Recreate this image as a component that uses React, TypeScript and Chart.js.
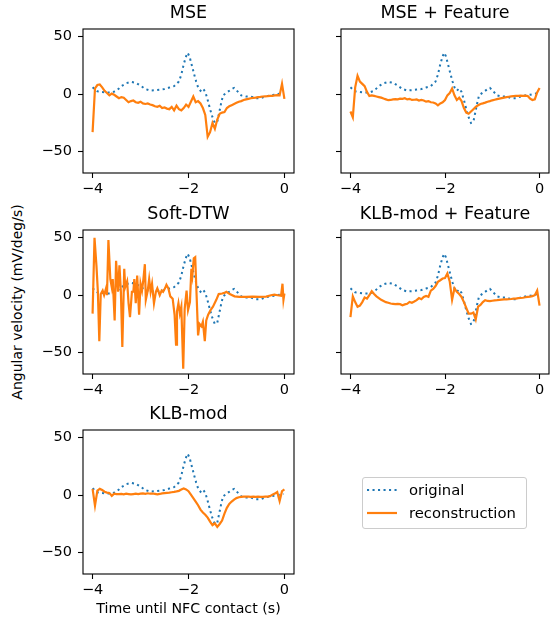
import React, { useEffect, useRef } from 'react';
import { Chart, registerables } from 'chart.js';

Chart.register(...registerables);

// ---------- data ----------
const originalTime = [-4.0, -3.9, -3.8, -3.7, -3.6, -3.5, -3.4, -3.3, -3.2, -3.1, -3.0, -2.9, -2.8, -2.7, -2.6, -2.5, -2.4, -2.3, -2.2, -2.15, -2.1, -2.05, -2.02, -1.98, -1.93, -1.88, -1.84, -1.8, -1.75, -1.7, -1.65, -1.6, -1.55, -1.5, -1.45, -1.4, -1.37, -1.32, -1.28, -1.2, -1.1, -1.05, -1.0, -0.9, -0.8, -0.7, -0.6, -0.5, -0.4, -0.3, -0.2, -0.1, -0.02];
const originalValues = [6, 2.5, 2, 1.5, 1.5, 3, 7, 9.5, 10.7, 10, 7.5, 4.5, 3.2, 3.5, 4, 4.5, 5.8, 7, 11, 17, 26, 33, 36, 33, 25, 17, 11, 6, 3, 5, 2, -5, -13, -20, -25, -24, -18, -8, -1, 1.5, 4.5, 5.5, 3.5, -1, -2, -2, -3.5, -3.5, -2, -1, -0.5, 0.5, 1];

const gridTime = [-4, -3.95, -3.9, -3.85, -3.8, -3.75, -3.7, -3.65, -3.6, -3.55, -3.5, -3.45, -3.4, -3.35, -3.3, -3.25, -3.2, -3.15, -3.1, -3.05, -3, -2.95, -2.9, -2.85, -2.8, -2.75, -2.7, -2.65, -2.6, -2.55, -2.5, -2.45, -2.4, -2.35, -2.3, -2.25, -2.2, -2.15, -2.1, -2.05, -2, -1.95, -1.9, -1.85, -1.8, -1.75, -1.7, -1.65, -1.6, -1.55, -1.5, -1.45, -1.4, -1.35, -1.3, -1.25, -1.2, -1.15, -1.1, -1.05, -1, -0.95, -0.9, -0.85, -0.8, -0.75, -0.7, -0.65, -0.6, -0.55, -0.5, -0.45, -0.4, -0.35, -0.3, -0.25, -0.2, -0.15, -0.1, -0.05, 0];

const mseValues = [-33, 5, 8, 8.5, 6, 3, 1, -1, 0.5, -0.5, -2, -3.5, -2.5, -3, -5, -7, -6, -5.5, -7, -7.5, -6.5, -8, -8.5, -8, -9, -9.5, -10.5, -11, -10, -12, -11.5, -12.5, -13, -11, -14, -10, -13, -14, -12, -9, -11, -6.5, -2, -7, -6, -8, -12, -18, -37, -33, -25, -30, -22, -17, -16, -15.5, -12, -10.5, -9.5, -8.5, -7.5, -6.5, -6, -5, -4.5, -4, -3.5, -3.2, -3, -2.5, -2.3, -2, -1.8, -1.7, -1.5, -1.4, -1, -0.8, -1, 9, -4];

const mseFeatureValues = [-15, -20, 6, 16, 11, 9, 7, 2, -1.5, -1, -1.5, -2, -2.5, -3, -3.8, -4.5, -5.2, -5, -4.5, -4.3, -4.5, -3.8, -4, -3.5, -4.5, -4, -5, -4.8, -4.5, -5.5, -5, -5.5, -6.5, -6, -7, -7.2, -8, -9.6, -8, -7, -5, -1, 1, 5, -1, -5, -3, -6, -12, -16, -17, -15, -13, -11, -9.6, -8.5, -8, -7.3, -6.5, -6, -5.3, -4.8, -4.3, -3.8, -3.4, -3, -2.6, -2.2, -1.8, -1.6, -1.4, -1.4, -1.3, -1.4, -1.3, -1.5, -3.8, -5, -4.5, 1.5, 5.5];

const softDtwTime = [-4.0, -3.96, -3.92, -3.89, -3.86, -3.83, -3.79, -3.76, -3.72, -3.7, -3.67, -3.63, -3.6, -3.58, -3.54, -3.51, -3.47, -3.44, -3.41, -3.38, -3.34, -3.32, -3.28, -3.25, -3.22, -3.18, -3.15, -3.13, -3.1, -3.07, -3.03, -3.0, -2.97, -2.94, -2.91, -2.89, -2.85, -2.82, -2.79, -2.76, -2.72, -2.68, -2.65, -2.6, -2.56, -2.53, -2.49, -2.46, -2.42, -2.38, -2.33, -2.29, -2.26, -2.24, -2.21, -2.18, -2.15, -2.11, -2.08, -2.04, -2.01, -1.97, -1.94, -1.92, -1.89, -1.86, -1.84, -1.8, -1.77, -1.73, -1.7, -1.66, -1.63, -1.59, -1.54, -1.49, -1.42, -1.37, -1.3, -1.25, -1.21, -1.14, -1.04, -0.94, -0.8, -0.66, -0.52, -0.38, -0.28, -0.21, -0.14, -0.07, -0.04, -0.02, 0.0];
const softDtwValues = [-16, 50, 26, 3, -40, 1, 4, 0, 6, 0, 48, 14, 7, 14, -22, 30, 3, 26, 3, -45, 23, 7, 12, -7, -19, 3, 3, 14, -7, 17, -17, 10, 4, 14, 27, -4, 4, 14, 3, 10, -7, 3, 6, 0, 4, 3, 6, 9, 6, -1, -3, -17, -43, -14, -7, -16, -10, -64, -12, 4, -13, -6, 23, 17, 32, 33, 10, -35, -25, -27, -23, -40, -22, -17, -13, -10, -4, 1, 1.5, 2, 3, 1, -1, -1.4, -1.4, -1.2, -1.4, -1.2, 0, 0.5, 0, -0.5, 10, -4, 1.5];

const klbModFeatureValues = [-19, -1, -6, -10, -9, -6, -2, -3, 0, 3.5, 1, -1, -2.5, -4, -5, -6, -6.5, -7.2, -7.5, -7.8, -7.5, -7.8, -8.7, -8, -7.5, -5.8, -6.5, -5.5, -4.3, -2.5, -3.5, -1.5, -0.6, -1.4, 4, 5.5, 8, 11.6, 13, 14.5, 15, 19, 12, -4, 6, 3, 1, -1.5, -6, -11, -16, -16, -15, -21, -10, -8.5, -6, -4.3, -5, -5.2, -4.8, -4.5, -4.3, -4, -3.8, -3.7, -3.6, -3.5, -3.3, -3, -2.9, -2.6, -2.4, -2.2, -1.8, -1.5, -1.2, -0.8, 0, 4, -9];

const klbModValues = [5.5, -9, 4, 5.5, 4.5, 3, 2.3, 2, -0.5, 1.4, 1, 0.9, 1.2, 0.8, 1.3, 1, 0.7, 1, 1.3, 1, 1.4, 1.6, 1.2, 1.7, 1.3, 1.5, 1.2, 0.8, 1.1, 1.6, 1.8, 2, 2.2, 2.6, 2.9, 3.3, 3.8, 4.9, 5.8, 5, 3.5, 0.5, -2.5, -5.5, -8.7, -12.5, -15, -17, -19.5, -23, -26, -24.5, -27.5, -25, -22, -16, -11, -7.5, -5.5, -3.8, -2.5, -1.8, -1.5, -1.3, -1.2, -1.3, -1.4, -1.3, -1.4, -1.3, -1.4, -1.4, -1.3, -1.2, -0.8, 0.5, 1.4, 2.8, -5, 3.5, 5];

const xTicks = [-4, -2, 0];
const yTicks = [-50, 0, 50];
const panelTitles = ['MSE', 'MSE + Feature', 'Soft-DTW', 'KLB-mod + Feature', 'KLB-mod'];
const legendLabels = ['original', 'reconstruction'];
const xAxisLabel = 'Time until NFC contact (s)';
const yAxisLabel = 'Angular velocity (mV/deg/s)';

// ---------- styling / layout ----------
const FONT = "'DejaVu Sans', sans-serif";
const BLUE = '#1f77b4';
const ORANGE = '#ff7f0e';
const X_MIN = -4.2, X_MAX = 0.2, Y_MIN = -68.5, Y_MAX = 56.7;
const PAD_L = 50, PAD_T = 20, PAD_R = 6, PAD_B = 30;
const COLS = [{ left: 83, width: 211 }, { left: 341, width: 208 }];
const ROWS = [29, 230, 430];
const AX_H = 144;
const TICK_FS = 14.5;
const TITLE_FS = 17.5;
const LEGEND_FS = 14.8;

Chart.defaults.font.family = FONT;

const fmt = (v: number) => (v < 0 ? '\u2212' + Math.abs(v) : String(v));

const boxPlugin = {
  id: 'axesBox',
  afterDraw(chart: any) {
    const { ctx, chartArea: a } = chart;
    ctx.save();
    ctx.strokeStyle = '#000';
    ctx.lineWidth = 1.1;
    ctx.strokeRect(a.left, a.top, a.right - a.left, a.bottom - a.top);
    ctx.restore();
  },
};

const toPoints = (t: number[], v: number[]) => t.map((x, i) => ({ x, y: v[i] }));

type PanelProps = {
  title: string;
  left: number;
  top: number;
  width: number;
  time: number[];
  values: number[];
  showYLabels: boolean;
};

function Panel({ title, left, top, width, time, values, showYLabels }: PanelProps) {
  const ref = useRef<HTMLCanvasElement>(null);
  const cw = width + PAD_L + PAD_R;
  const ch = AX_H + PAD_T + PAD_B;

  useEffect(() => {
    const canvas = ref.current;
    if (!canvas) return;
    const gridOpts = {
      display: true,
      drawOnChartArea: false,
      drawTicks: true,
      tickLength: 5,
      tickColor: '#000',
      tickWidth: 1.1,
      color: '#000',
    };
    const chart = new Chart(canvas, {
      type: 'line',
      data: {
        datasets: [
          {
            label: legendLabels[1],
            data: toPoints(time, values),
            borderColor: ORANGE,
            borderWidth: 2.2,
            pointRadius: 0,
            tension: 0,
            fill: false,
          },
          {
            label: legendLabels[0],
            data: toPoints(originalTime, originalValues),
            borderColor: BLUE,
            borderWidth: 2,
            borderDash: [2.1, 3.4],
            pointRadius: 0,
            tension: 0,
            fill: false,
          },
        ],
      },
      options: {
        animation: false,
        responsive: false,
        devicePixelRatio: 1,
        events: [],
        layout: { padding: { left: 0, top: PAD_T, right: PAD_R, bottom: 0 } },
        plugins: { legend: { display: false }, tooltip: { enabled: false }, title: { display: false } },
        scales: {
          x: {
            type: 'linear',
            min: X_MIN,
            max: X_MAX,
            afterBuildTicks: (s: any) => {
              s.ticks = xTicks.map((v) => ({ value: v }));
            },
            afterFit: (s: any) => {
              s.height = PAD_B;
            },
            grid: gridOpts,
            border: { display: false },
            ticks: {
              autoSkip: false,
              maxRotation: 0,
              padding: 3,
              color: '#000',
              font: { family: FONT, size: TICK_FS },
              callback: (v: any) => fmt(Number(v)),
            },
          },
          y: {
            type: 'linear',
            min: Y_MIN,
            max: Y_MAX,
            afterBuildTicks: (s: any) => {
              s.ticks = yTicks.map((v) => ({ value: v }));
            },
            afterFit: (s: any) => {
              s.width = PAD_L;
            },
            grid: gridOpts,
            border: { display: false },
            ticks: {
              autoSkip: false,
              padding: 6,
              color: '#000',
              font: { family: FONT, size: TICK_FS },
              callback: (v: any) => (showYLabels ? fmt(Number(v)) : ''),
            },
          },
        },
      } as any,
      plugins: [boxPlugin],
    });
    return () => chart.destroy();
  }, []);

  return (
    <>
      <canvas
        ref={ref}
        width={cw}
        height={ch}
        style={{ position: 'absolute', left: left - PAD_L, top: top - PAD_T, width: cw, height: ch }}
      />
      <div
        style={{
          position: 'absolute',
          left,
          width,
          top: top - 9.7 - 0.846 * TITLE_FS,
          textAlign: 'center',
          fontSize: TITLE_FS,
          lineHeight: `${TITLE_FS}px`,
          fontFamily: FONT,
          whiteSpace: 'nowrap',
          color: '#000',
        }}
      >
        {title}
      </div>
    </>
  );
}

export default function App() {
  const panels = [
    { title: panelTitles[0], col: 0, row: 0, time: gridTime, values: mseValues },
    { title: panelTitles[1], col: 1, row: 0, time: gridTime, values: mseFeatureValues },
    { title: panelTitles[2], col: 0, row: 1, time: softDtwTime, values: softDtwValues },
    { title: panelTitles[3], col: 1, row: 1, time: gridTime, values: klbModFeatureValues },
    { title: panelTitles[4], col: 0, row: 2, time: gridTime, values: klbModValues },
  ];
  const legendRows = [490, 513];
  return (
    <div
      style={{
        position: 'absolute',
        left: 0,
        top: 0,
        width: 550,
        height: 623,
        overflow: 'hidden',
        background: '#fff',
        fontFamily: FONT,
      }}
    >
      {panels.map((p) => (
        <Panel
          key={p.title}
          title={p.title}
          left={COLS[p.col].left}
          top={ROWS[p.row]}
          width={COLS[p.col].width}
          time={p.time}
          values={p.values}
          showYLabels={p.col === 0}
        />
      ))}
      {/* x axis label */}
      <div
        style={{
          position: 'absolute',
          left: COLS[0].left,
          width: COLS[0].width,
          top: 613 - 0.846 * 14.2,
          textAlign: 'center',
          fontSize: 14.2,
          lineHeight: '14.2px',
          whiteSpace: 'nowrap',
          color: '#000',
        }}
      >
        {xAxisLabel}
      </div>
      {/* y axis label */}
      <div
        style={{
          position: 'absolute',
          left: 17,
          top: 302,
          transform: 'translate(-50%, -50%) rotate(-90deg)',
          fontSize: 14,
          lineHeight: '14px',
          whiteSpace: 'nowrap',
          color: '#000',
        }}
      >
        {yAxisLabel}
      </div>
      {/* legend */}
      <div
        style={{
          position: 'absolute',
          left: 362,
          top: 477,
          width: 165,
          height: 52,
          boxSizing: 'border-box',
          border: '1px solid #cccccc',
          borderRadius: 3,
          background: 'rgba(255,255,255,0.8)',
        }}
      />
      <svg style={{ position: 'absolute', left: 0, top: 0 }} width={550} height={623}>
        <line x1={367} y1={legendRows[0]} x2={397} y2={legendRows[0]} stroke={BLUE} strokeWidth={2} strokeDasharray="2.1 3.4" />
        <line x1={367} y1={legendRows[1]} x2={397} y2={legendRows[1]} stroke={ORANGE} strokeWidth={2.2} />
      </svg>
      {legendLabels.map((lab, i) => (
        <div
          key={lab}
          style={{
            position: 'absolute',
            left: 409,
            top: legendRows[i] - 9,
            fontSize: LEGEND_FS,
            lineHeight: '18px',
            whiteSpace: 'nowrap',
            color: '#000',
          }}
        >
          {lab}
        </div>
      ))}
    </div>
  );
}
